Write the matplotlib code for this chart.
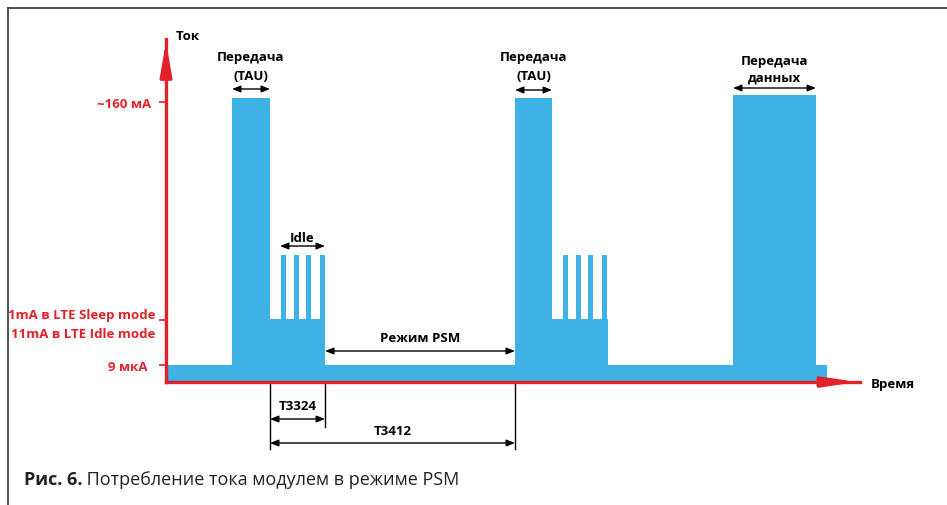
import matplotlib
matplotlib.use('Agg')
import matplotlib.pyplot as plt
from matplotlib.lines import Line2D
from matplotlib.transforms import ScaledTranslation

plt.rcParams['font.family'] = ['Open Sans', 'DejaVu Sans']

# Данные: ступени тока (условные единицы времени и уровня)
seg_t0 = [0, 66, 104, 159, 349, 386, 442, 567, 650]
seg_t1 = [66, 104, 159, 349, 386, 442, 567, 650, 661]
seg_lvl = [17, 284, 63, 17, 284, 63, 17, 287, 17]

# импульсы в режиме Idle
spike_t0 = [115, 128, 140, 154, 397, 410, 422, 436]
spike_w = 5
spike_lvl = 127

# уровни на оси тока
lvl_ticks = [17, 62, 280]
lvl_labels = ['9 мкА', '1mA в LTE Sleep mode\n11mA в LTE Idle mode', '~160 мА']
lvl_shift = [-3, 5, 0]

# моменты времени для таймеров
t_tau1 = (66, 104)
t_idle = (114, 159)
t_psm = (159, 349)
t_tau2 = (349, 386)
t_data = (567, 650)

BLUE = '#3EB1E5'
RED = '#E3212B'

fig = plt.figure(figsize=(9.47, 5.06), dpi=100)
ax = fig.add_axes([166 / 947, 123 / 506, 694 / 947, 343 / 506])
ax.set_xlim(0, 694)
ax.set_ylim(0, 343)

widths = [b - a for a, b in zip(seg_t0, seg_t1)]
ax.bar(seg_t0, seg_lvl, width=widths, align='edge', color=BLUE, linewidth=0, zorder=1)
ax.bar(spike_t0, [spike_lvl] * len(spike_t0), width=spike_w, align='edge', color=BLUE,
       linewidth=0, zorder=1)

# оси
for s in ['top', 'right']:
    ax.spines[s].set_visible(False)
for s in ['left', 'bottom']:
    ax.spines[s].set_color(RED)
    ax.spines[s].set_linewidth(2.4)
    ax.spines[s].set_zorder(3)
ax.set_xticks([])
ax.set_yticks(lvl_ticks)
ax.set_yticklabels(lvl_labels, color=RED, fontweight='bold', fontsize=9.5, linespacing=1.5)
ax.tick_params(axis='y', length=5, width=1.2, color=RED, pad=6)
for lab, dx in zip(ax.get_yticklabels(), lvl_shift):
    lab.set_transform(lab.get_transform() + ScaledTranslation(dx / 100, 0, fig.dpi_scale_trans))

ax.annotate('', xy=(0, 343), xytext=(0, 320), annotation_clip=False,
            arrowprops=dict(arrowstyle='-|>,head_length=2.0,head_width=0.35', color=RED, lw=2.4))
ax.annotate('', xy=(694, 0), xytext=(660, 0), annotation_clip=False,
            arrowprops=dict(arrowstyle='-|>,head_length=2.0,head_width=0.3', color=RED, lw=2.4))
ax.text(10, 346, 'Ток', fontsize=9.5, fontweight='bold', ha='left', va='center')
ax.text(705, -2, 'Время', fontsize=9.5, fontweight='bold', ha='left', va='center')

fs = 9.5
arr = dict(arrowstyle='<|-|>,head_length=0.5,head_width=0.2', color='black', lw=1.0,
           shrinkA=0, shrinkB=0)

def dim(t, y, label_lines, y_text):
    ax.annotate('', xy=(t[0], y), xytext=(t[1], y), arrowprops=arr, annotation_clip=False)
    for line, yt in zip(label_lines, y_text):
        ax.text((t[0] + t[1]) / 2, yt, line, fontsize=fs, fontweight='bold', ha='center', va='center')

dim(t_tau1, 293, ['Передача', '(TAU)'], [326, 306])
dim(t_tau2, 292, ['Передача', '(TAU)'], [326, 306])
dim(t_data, 294, ['Передача', 'данных'], [322, 305])
dim(t_idle, 136, ['Idle'], [144])
dim(t_psm, 31, ['Режим PSM'], [44])

# таймеры T3324 и T3412
ax.plot([t_tau1[1]] * 2, [0, -67], color='black', lw=1.0, clip_on=False)
ax.plot([t_idle[1]] * 2, [0, -45], color='black', lw=1.0, clip_on=False)
ax.plot([t_tau2[0]] * 2, [0, -67], color='black', lw=1.0, clip_on=False)
dim((t_tau1[1], t_idle[1]), -37, ['T3324'], [-24])
dim((t_tau1[1], t_tau2[0]), -61, ['T3412'], [-49])

# рамка
fig.add_artist(Line2D([8 / 947, 1], [1 - 9 / 506] * 2, transform=fig.transFigure, color='#333333', lw=1.2))
fig.add_artist(Line2D([8 / 947] * 2, [0, 1 - 9 / 506], transform=fig.transFigure, color='#333333', lw=1.2))

# подпись
t1 = fig.text(24 / 947, 1 - 480 / 506, 'Рис. 6.', fontsize=13, fontweight='bold', va='center', ha='left',
              color='#222222')
ax.annotate(' Потребление тока модулем в режиме PSM', xy=(1, 0), xycoords=t1, va='bottom', ha='left',
            fontsize=13, color='#222222', annotation_clip=False)

fig.savefig('out.png', dpi=100)
